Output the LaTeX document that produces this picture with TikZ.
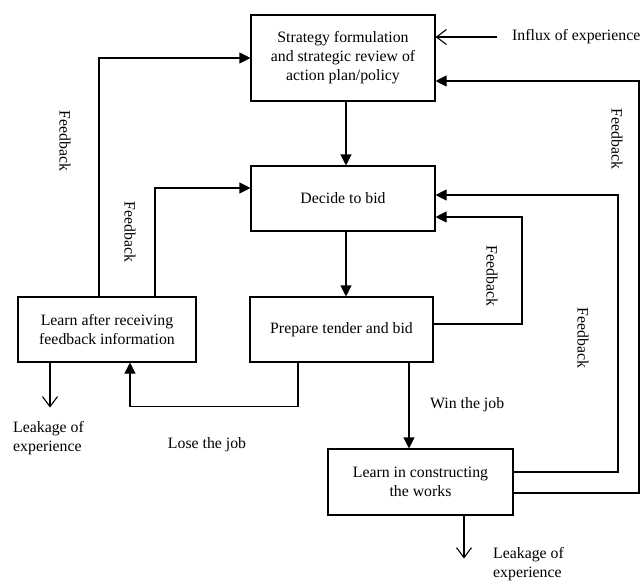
\documentclass[tikz,border=0pt]{standalone}
\usepackage{fontspec}
\setmainfont{Liberation Serif}
\usetikzlibrary{arrows.meta}
\begin{document}
\begin{tikzpicture}[x=1pt,y=-1pt,
  box/.style={draw, line width=1.1pt, inner sep=0pt, align=center,
    font=\fontsize{15.8}{19}\selectfont},
  lbl/.style={inner sep=0pt, align=left, font=\fontsize{15.8}{19}\selectfont},
  fb/.style={line width=1.1pt, -{Triangle[length=11pt,width=11pt]}},
  leak/.style={line width=1.1pt, -{Straight Barb[length=10pt,width=15pt]}},
]
\useasboundingbox (0,0) rectangle (641,581);

% process boxes
\node[box, minimum width=184pt, minimum height=86pt] (b1) at (343,58)
  {Strategy formulation\\and strategic review of\\action plan/policy};
\node[box, minimum width=184pt, minimum height=65pt] (b2) at (343,198.5)
  {Decide to bid};
\node[box, minimum width=178pt, minimum height=65pt] (b3) at (107,329.5)
  {Learn after receiving\\feedback information};
\node[box, minimum width=183pt, minimum height=65pt] (b4) at (341.5,329.5)
  {Prepare tender and bid};
\node[box, minimum width=185pt, minimum height=66pt] (b5) at (420.5,482)
  {Learn in constructing\\the works};

% text labels
\node[lbl, anchor=west] (influx) at (512,37) {Influx of experience};
\node[lbl, rotate=-90] (fbA) at (65,141) {Feedback};
\node[lbl, rotate=-90] (fbB) at (130,232) {Feedback};
\node[lbl, rotate=-90] (fbC) at (617,139) {Feedback};
\node[lbl, rotate=-90] (fbD) at (492,276) {Feedback};
\node[lbl, rotate=-90] (fbE) at (583,338) {Feedback};
\node[lbl] (lose) at (207,445) {Lose the job};
\node[lbl, anchor=west] (win) at (430,405) {Win the job};
\node[lbl, anchor=west] (leakA) at (13,438) {Leakage of\\experience};
\node[lbl, anchor=west] (leakB) at (493,564) {Leakage of\\experience};

% column positions of the routed lines
\coordinate (xL1) at (99,0);
\coordinate (xL2) at (155,0);
\coordinate (xR1) at (522,0);
\coordinate (xR2) at (618,0);
\coordinate (xR3) at (639,0);
\coordinate (xV) at (346,0);
\coordinate (xW) at (409,0);
\coordinate (xLoseA) at (298,0);
\coordinate (xLoseB) at (130,0);
\coordinate (xLkA) at (50,0);
\coordinate (xLkB) at (464,0);

% entry points on the right of the upper boxes
\coordinate (b2inA) at ([yshift=3.5pt]b2.east);
\coordinate (b2inB) at ([yshift=-18.5pt]b2.east);
\coordinate (b1inA) at ([yshift=-23pt]b1.east);

% main flow
\draw[fb] (b1.south -| xV) -- (b2.north -| xV);
\draw[fb] (b2.south -| xV) -- (b4.north -| xV);
\draw[fb] (b4.south -| xW) -- (b5.north -| xW);
\draw[fb] (b4.south -| xLoseA) -- ++(0,44) -| (b3.south -| xLoseB);

% feedback loops
\draw[fb] (b3.north -| xL1) |- (b1.west);
\draw[fb] (b3.north -| xL2) |- ([yshift=10.5pt]b2.west);
\draw[fb] ([yshift=5.5pt]b4.east) -| (b2inB -| xR1) -- (b2inB);
\draw[fb] ([yshift=10pt]b5.east) -| (b2inA -| xR2) -- (b2inA);
\draw[fb] ([yshift=-11pt]b5.east) -| (b1inA -| xR3) -- (b1inA);

% experience flowing in and out
\draw[leak] ([xshift=-15pt]influx.west) -- (b1.east |- influx.west);
\draw[leak] (b3.south -| xLkA) -- ++(0,45);
\draw[leak] (b5.south -| xLkB) -- ++(0,43);
\end{tikzpicture}
\end{document}
